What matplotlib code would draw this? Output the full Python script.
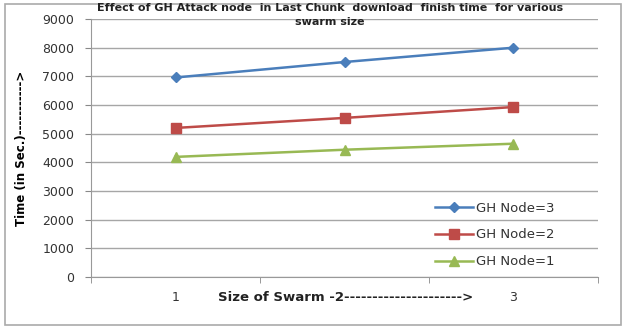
import numpy as np
import matplotlib.pyplot as plt
from matplotlib.patches import Rectangle

plt.rcParams['font.family'] = ['DejaVu Sans']

swarm = [1, 2, 3]
gh3 = [6960, 7500, 8000]
gh2 = [5200, 5550, 5930]
gh1 = [4190, 4440, 4650]
series = [("GH Node=3", gh3, '#4A7EBB', 'D', 5),
          ("GH Node=2", gh2, '#BE4B48', 's', 7),
          ("GH Node=1", gh1, '#98B954', '^', 7)]

fig = plt.figure(figsize=(6.29, 3.28), dpi=100)
ax = fig.add_axes([0.1447, 0.1555, 0.806, 0.7865])

xs = np.arange(len(swarm))
lines = []
for name, ys, col, mk, ms in series:
    ln, = ax.plot(xs, ys, color=col, lw=1.8, marker=mk, ms=ms, label=name)
    lines.append(ln)

ax.set_xlim(-0.5, 2.5)
ax.set_ylim(0, 9000)
ax.set_yticks(range(0, 9001, 1000))
ax.set_xticks(xs)
ax.set_xticklabels([str(s) if s != 2 else '' for s in swarm])
ax.set_xticks([-0.5, 0.5, 1.5, 2.5], minor=True)
ax.tick_params(axis='x', which='major', length=0, labelsize=9, pad=10, colors='#333333')
ax.tick_params(axis='x', which='minor', length=4, color='#888888')
ax.tick_params(axis='y', length=4, color='#888888', labelsize=9, labelcolor='#333333', pad=8)
ax.grid(axis='y', color='#a6a6a6', lw=1)
ax.set_axisbelow(True)
for s in ['top', 'right']:
    ax.spines[s].set_visible(False)
for s in ['left', 'bottom']:
    ax.spines[s].set_color('#999999')

# the "2" of the category axis is run into the axis title
ax.text(0.25, -0.056, "Size of Swarm -" + str(swarm[1]) + "--------------------->",
        transform=ax.transAxes, ha='left', va='top',
        fontsize=9.5, fontweight='bold', color='#222222')

ax.set_ylabel("Time (in Sec.)----------->", fontsize=8.5, fontweight='bold', labelpad=10)

fig.text(0.525, 0.99, "Effect of GH Attack node  in Last Chunk  download  finish time  for various\nswarm size",
         ha='center', va='top', fontsize=8, fontweight='bold', color='#222222', linespacing=1.45)

leg = ax.legend(handles=lines, loc='center left', bbox_to_anchor=(0.655, 0.163),
                frameon=False, fontsize=9.5, handlelength=2.9, labelspacing=1.05,
                handletextpad=0.2, labelcolor='#333333')

fig.patches.append(Rectangle((0.008, 0.01), 0.98, 0.978, transform=fig.transFigure,
                             fill=False, edgecolor='#aaaaaa', lw=1.2))

fig.savefig('out.png', dpi=100)
